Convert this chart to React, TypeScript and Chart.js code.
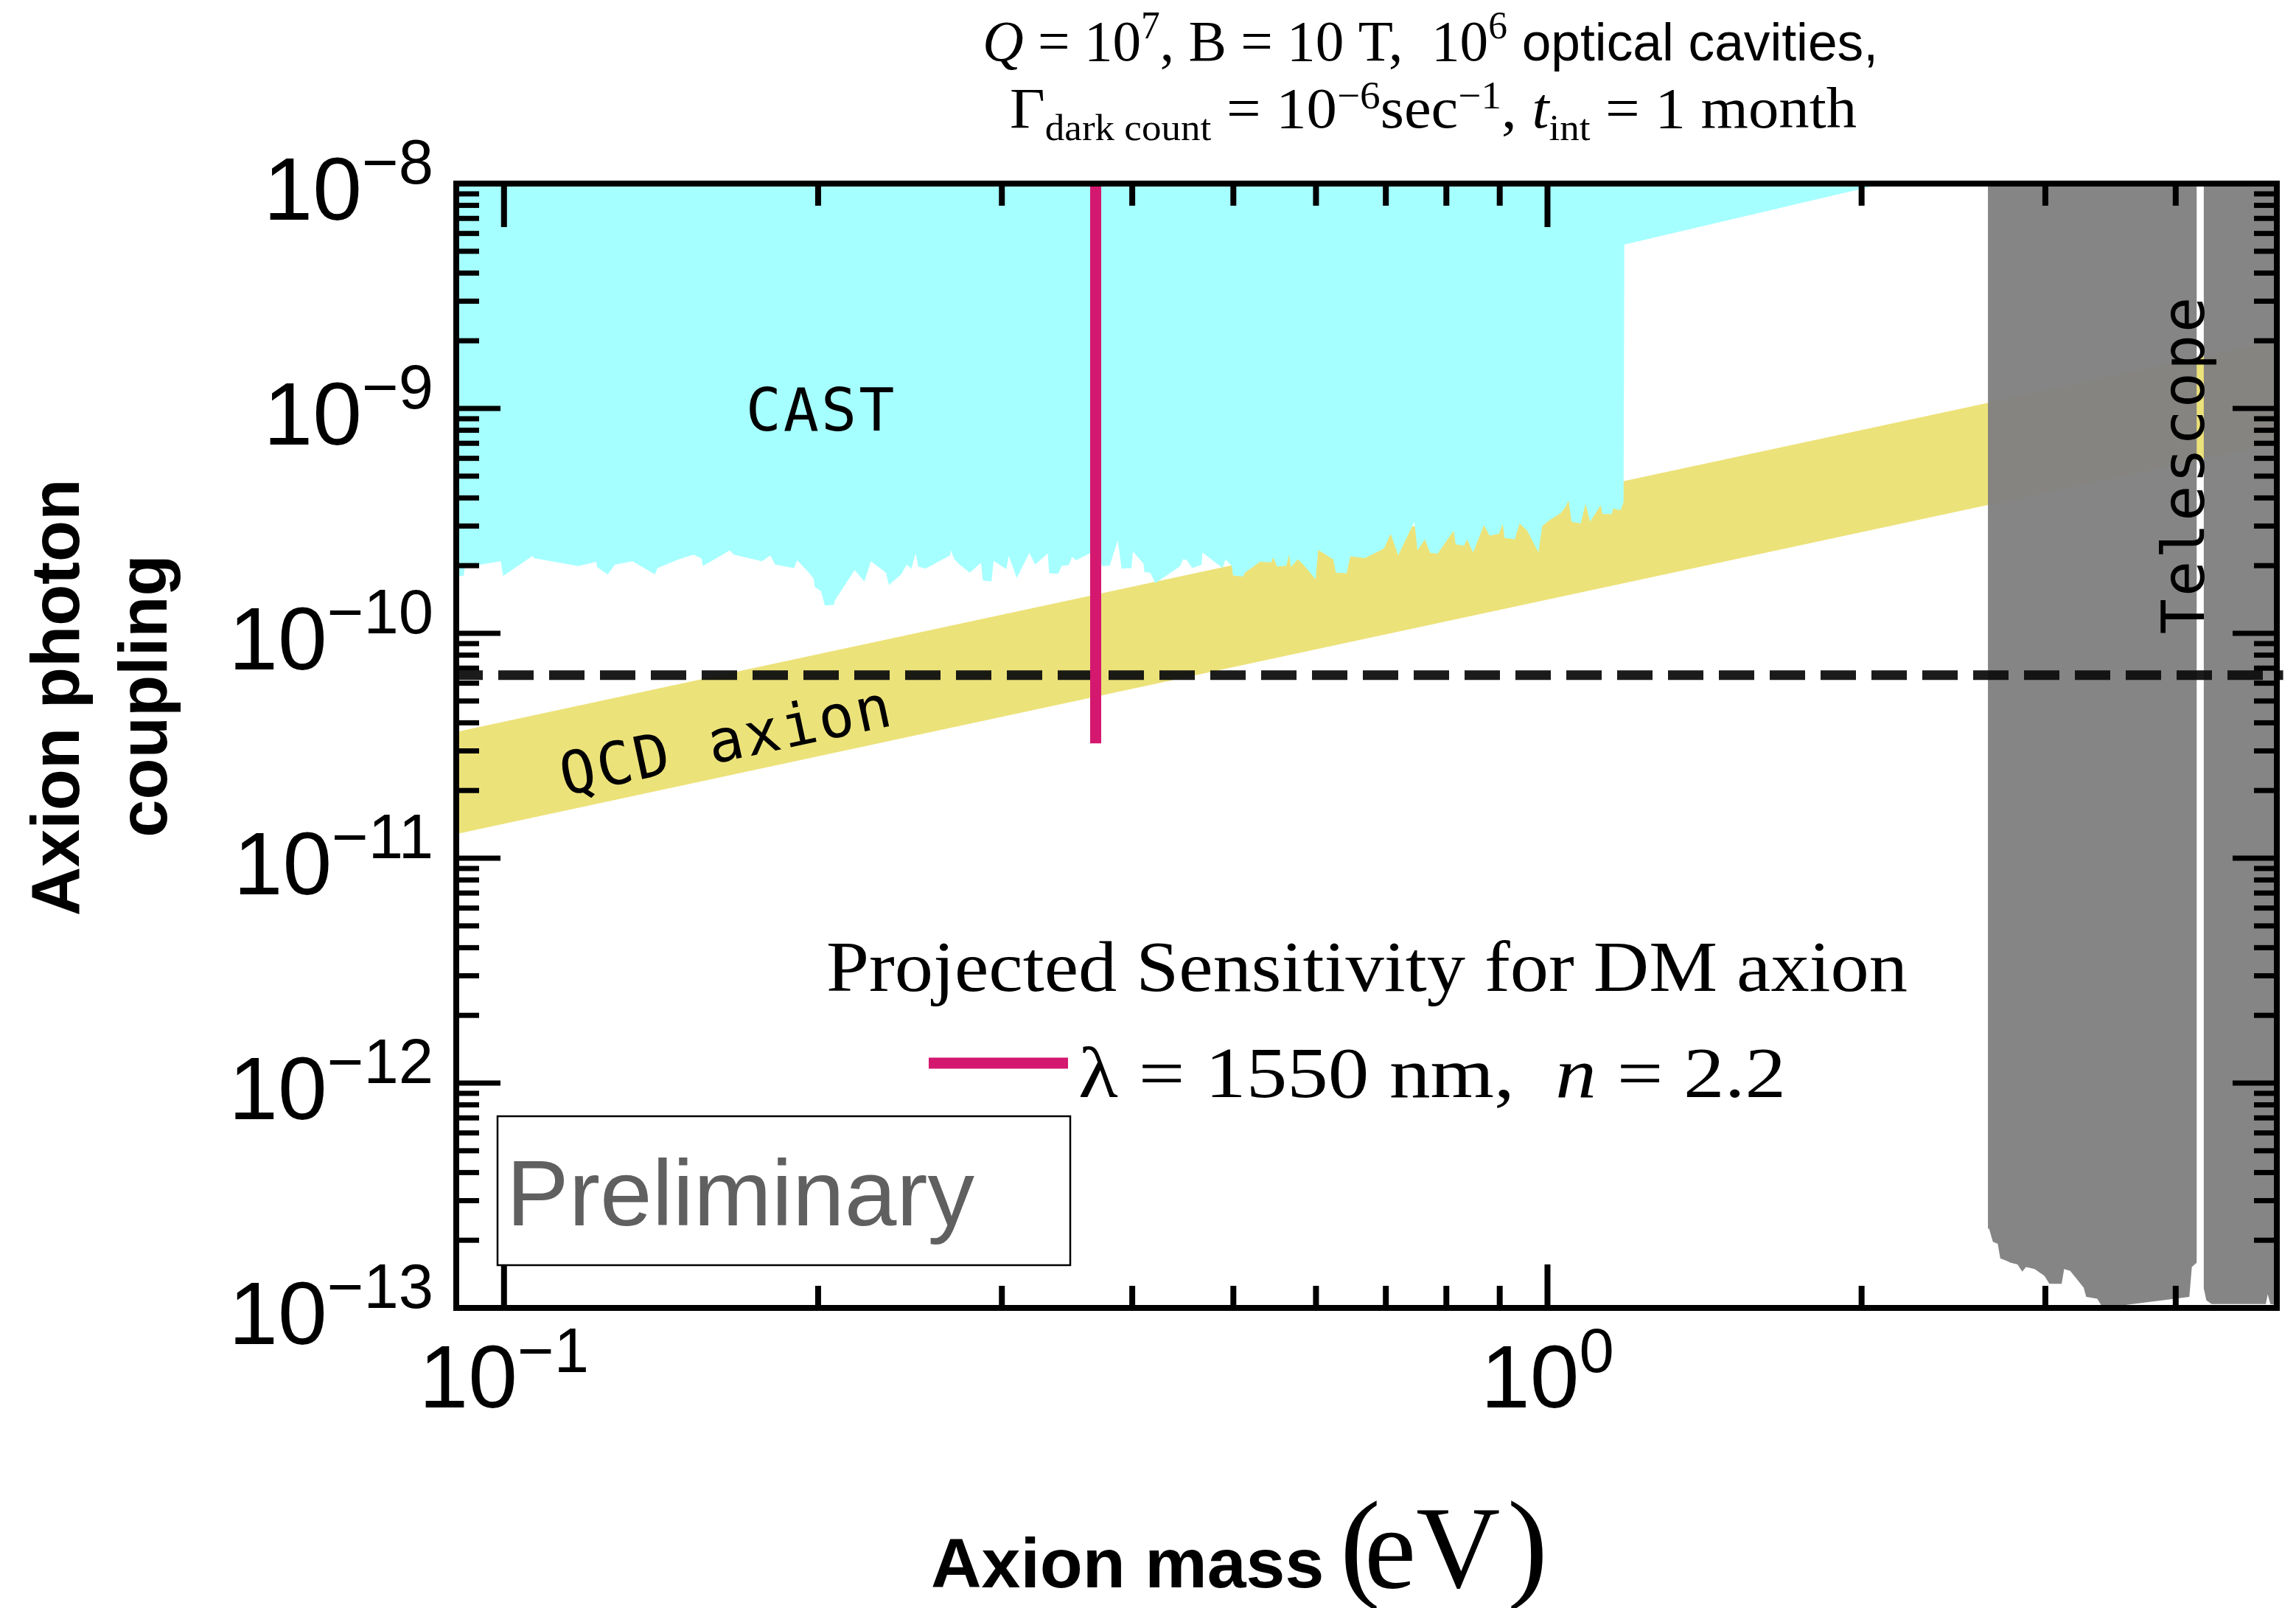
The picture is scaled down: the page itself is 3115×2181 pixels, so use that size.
import React, { useEffect, useRef } from 'react';
import { Chart, registerables } from 'chart.js';

Chart.register(...registerables);

const W = 3115;
const H = 2181;

// ---------- axes ----------
const X_MIN = 0.09;
const X_MAX = 5;
const Y_MIN = 1e-13;
const Y_MAX = 1e-8;
const X_MAJOR_TICKS = [0.1, 1];
const X_MAJOR_EXPONENTS = ['\u22121', '0'];
const X_MINOR_TICKS = [0.2, 0.3, 0.4, 0.5, 0.6, 0.7, 0.8, 0.9, 2, 3, 4];
const Y_MAJOR_TICKS = [1e-13, 1e-12, 1e-11, 1e-10, 1e-9, 1e-8];
const Y_MAJOR_EXPONENTS = ['\u221213', '\u221212', '\u221211', '\u221210', '\u22129', '\u22128'];
const Y_MINOR_DECADES = [1e-13, 1e-12, 1e-11, 1e-10, 1e-9];
const Y_MINOR_MANTISSAS = [2, 3, 4, 5, 6, 7, 8, 9];

// ---------- CAST exclusion (lower boundary, filled up to the top) ----------
const CAST_MASS = [
  0.09, 0.0915, 0.0917, 0.0993, 0.0998, 0.1065, 0.1068, 0.1178, 0.1226, 0.1228,
  0.1257, 0.1278, 0.1328, 0.1395, 0.1403, 0.1473, 0.152, 0.1546, 0.1551, 0.1646,
  0.166, 0.1767, 0.18, 0.1819, 0.1896, 0.191, 0.1956, 0.198, 0.1985, 0.2013,
  0.203, 0.2071, 0.2075, 0.2168, 0.2215, 0.2247, 0.2323, 0.2338, 0.2402, 0.2432,
  0.2457, 0.248, 0.2495, 0.2535, 0.2676, 0.2681, 0.2701, 0.2732, 0.2795, 0.2865,
  0.2877, 0.2932, 0.2946, 0.303, 0.3046, 0.31, 0.3188, 0.3228, 0.332, 0.333,
  0.3397, 0.3424, 0.3477, 0.3503, 0.3533, 0.3643, 0.3748, 0.3806, 0.3875, 0.3907,
  0.3993, 0.4006, 0.41, 0.411, 0.4162, 0.421, 0.4447, 0.4473, 0.451, 0.4566,
  0.4662, 0.467, 0.4882, 0.4914, 0.4983, 0.4996, 0.5109, 0.5129, 0.5303, 0.5436,
  0.546, 0.5506, 0.5621, 0.5654, 0.5677, 0.5763, 0.5834, 0.5995, 0.603, 0.6233,
  0.6269, 0.642, 0.6472, 0.668, 0.6917, 0.6975, 0.7075, 0.7193, 0.7455, 0.7505,
  0.7631, 0.7718, 0.7846, 0.8131, 0.8165, 0.8318, 0.8374, 0.8486, 0.8692, 0.88,
  0.8985, 0.906, 0.9097, 0.9304, 0.9404, 0.9562, 0.9804, 0.9885, 1.005, 1.0287,
  1.0407, 1.0477, 1.0546, 1.076, 1.0877, 1.0985, 1.1245, 1.1292, 1.1528, 1.1556,
  1.175, 1.1829, 1.1849, 2.1,
];
const CAST_COUPLING = [
  1.8e-10, 1.8e-10, 1.97e-10, 2.09e-10, 1.8e-10, 2.21e-10, 2.16e-10, 1.99e-10, 2.08e-10, 1.97e-10,
  1.83e-10, 2.02e-10, 2.09e-10, 1.83e-10, 1.95e-10, 2.14e-10, 2.24e-10, 2.15e-10, 1.99e-10, 2.34e-10,
  2.24e-10, 2.09e-10, 2.22e-10, 2.02e-10, 1.95e-10, 2.11e-10, 1.88e-10, 1.75e-10, 1.61e-10, 1.54e-10,
  1.33e-10, 1.34e-10, 1.4e-10, 1.91e-10, 1.7e-10, 2.09e-10, 1.86e-10, 1.64e-10, 1.83e-10, 2.02e-10,
  1.94e-10, 2.27e-10, 1.98e-10, 1.94e-10, 2.22e-10, 2.34e-10, 2.14e-10, 2.02e-10, 1.86e-10, 2.06e-10,
  1.72e-10, 1.7e-10, 2.1e-10, 1.93e-10, 2.21e-10, 1.76e-10, 2.28e-10, 2.02e-10, 2.27e-10, 1.85e-10,
  1.84e-10, 2.0e-10, 2.01e-10, 2.19e-10, 2.11e-10, 2.27e-10, 1.99e-10, 2.0e-10, 2.6e-10, 1.94e-10,
  1.95e-10, 2.31e-10, 2.04e-10, 1.87e-10, 1.86e-10, 1.67e-10, 1.99e-10, 2.13e-10, 2.12e-10, 1.95e-10,
  2.02e-10, 2.29e-10, 1.95e-10, 2.13e-10, 1.99e-10, 1.81e-10, 1.79e-10, 1.86e-10, 2.08e-10, 2.07e-10,
  2.18e-10, 1.98e-10, 2.0e-10, 2.24e-10, 1.97e-10, 2.13e-10, 2.02e-10, 1.74e-10, 2.35e-10, 2.13e-10,
  1.86e-10, 1.85e-10, 2.2e-10, 2.16e-10, 2.34e-10, 2.39e-10, 2.77e-10, 2.22e-10, 3.13e-10, 2.34e-10,
  2.62e-10, 2.28e-10, 2.26e-10, 2.86e-10, 2.49e-10, 2.45e-10, 2.62e-10, 2.29e-10, 3.03e-10, 2.72e-10,
  2.77e-10, 3.06e-10, 2.66e-10, 2.62e-10, 3.08e-10, 2.86e-10, 2.29e-10, 3.0e-10, 3.19e-10, 3.41e-10,
  3.65e-10, 3.9e-10, 3.13e-10, 3.08e-10, 3.77e-10, 3.13e-10, 3.71e-10, 3.39e-10, 3.39e-10, 3.59e-10,
  3.53e-10, 3.84e-10, 5.35e-9, 1.0e-8,
];

// ---------- QCD axion band ----------
const QCD_MASS = [0.09, 5];
const QCD_UPPER = [3.64e-11, 2.0e-9];
const QCD_LOWER = [1.28e-11, 7.03e-10];

// ---------- Telescope exclusion (lower boundaries, filled up to the top) ----------
const TEL1_MASS = [
  2.643, 2.65, 2.672, 2.701, 2.716, 2.753, 2.776, 2.821, 2.851, 2.875, 2.93, 2.994, 3.027,
  3.11, 3.127, 3.169, 3.23, 3.265, 3.283, 3.364, 3.392, 3.58, 4.122, 4.145, 4.191,
];
const TEL1_COUPLING = [
  2.25e-13, 2.25e-13, 1.97e-13, 1.93e-13, 1.66e-13, 1.62e-13, 1.59e-13, 1.56e-13, 1.45e-13, 1.52e-13,
  1.49e-13, 1.39e-13, 1.28e-13, 1.28e-13, 1.49e-13, 1.46e-13, 1.31e-13, 1.23e-13, 1.12e-13, 1.1e-13,
  1.03e-13, 1.03e-13, 1.12e-13, 1.52e-13, 1.59e-13,
];
const TEL2_MASS = [4.254, 4.28, 4.33, 4.88, 4.9, 4.93, 5.0];
const TEL2_COUPLING = [1.23e-13, 1.08e-13, 1.04e-13, 1.04e-13, 1.15e-13, 1.04e-13, 1.03e-13];

// ---------- projected sensitivity (lambda = 1550 nm, n = 2.2) ----------
const SENS_MASS = [0.369, 0.369];
const SENS_COUPLING = [1e-8, 3.24e-11];

// ---------- dashed reference line ----------
const DASH_MASS = [0.09, 5.07];
const DASH_COUPLING = [6.52e-11, 6.52e-11];

// ---------- styles ----------
const CYAN = 'rgb(166,255,255)';
const YELLOW = 'rgb(236,226,122)';
const GREY = 'rgba(128,128,128,0.96)';
const PINK = 'rgb(212,24,111)';
const SANS = '"Liberation Sans", Arial, Helvetica, sans-serif';
const SANS_NARROW = '"Liberation Sans Narrow", "Liberation Sans", Arial, sans-serif';
const SERIF = '"Liberation Serif", "Times New Roman", serif';
const MONO = '"DejaVu Sans Mono", monospace';

const pts = (xs: number[], ys: number[]) => xs.map((x, i) => ({ x, y: ys[i] }));

type Seg = { t: string; f: string; dy?: number };

function segsWidth(ctx: CanvasRenderingContext2D, segs: Seg[]) {
  let w = 0;
  for (const s of segs) {
    ctx.font = s.f;
    w += ctx.measureText(s.t).width;
  }
  return w;
}

function drawSegs(
  ctx: CanvasRenderingContext2D,
  segs: Seg[],
  x: number,
  y: number,
  align: 'left' | 'center' | 'right',
  width?: number,
  color = '#000'
) {
  const natural = segsWidth(ctx, segs);
  const sx = width ? width / natural : 1;
  const total = natural * sx;
  let x0 = x;
  if (align === 'center') x0 = x - total / 2;
  else if (align === 'right') x0 = x - total;
  ctx.save();
  ctx.translate(x0, y);
  ctx.scale(sx, 1);
  ctx.fillStyle = color;
  ctx.textAlign = 'left';
  ctx.textBaseline = 'alphabetic';
  let cx = 0;
  for (const s of segs) {
    ctx.font = s.f;
    ctx.fillText(s.t, cx, s.dy || 0);
    cx += ctx.measureText(s.t).width;
  }
  ctx.restore();
}

const overlayPlugin = {
  id: 'overlay',
  afterDatasetsDraw(chart: any) {
    const ctx: CanvasRenderingContext2D = chart.ctx;
    const xs = chart.scales.x;
    const ys = chart.scales.y;
    const { left, right, top, bottom } = chart.chartArea;

    ctx.save();
    ctx.strokeStyle = '#000';
    ctx.lineCap = 'butt';
    const seg = (x1: number, y1: number, x2: number, y2: number) => {
      ctx.beginPath();
      ctx.moveTo(x1, y1);
      ctx.lineTo(x2, y2);
      ctx.stroke();
    };

    // y ticks (inward, both sides)
    ctx.lineWidth = 7;
    for (const v of Y_MAJOR_TICKS) {
      const py = ys.getPixelForValue(v);
      seg(left, py, left + 60, py);
      seg(right, py, right - 60, py);
    }
    for (const d of Y_MINOR_DECADES) {
      for (const m of Y_MINOR_MANTISSAS) {
        const py = ys.getPixelForValue(d * m);
        seg(left, py, left + 31, py);
        seg(right, py, right - 31, py);
      }
    }
    // x ticks (inward, both sides)
    ctx.lineWidth = 8;
    for (const v of X_MAJOR_TICKS) {
      const px = xs.getPixelForValue(v);
      seg(px, bottom, px, bottom - 59);
      seg(px, top, px, top + 59);
    }
    for (const v of X_MINOR_TICKS) {
      const px = xs.getPixelForValue(v);
      seg(px, bottom, px, bottom - 30);
      seg(px, top, px, top + 30);
    }
    // frame
    ctx.lineWidth = 8;
    ctx.strokeRect(left, top, right - left, bottom - top);

    // y tick labels
    const labelRight = left - 31;
    Y_MAJOR_TICKS.forEach((v, i) => {
      const py = ys.getPixelForValue(v);
      drawSegs(
        ctx,
        [
          { t: '10', f: `120px ${SANS}` },
          { t: Y_MAJOR_EXPONENTS[i], f: `85px ${SANS}`, dy: -49 },
        ],
        labelRight,
        py + 49,
        'right'
      );
    });
    // x tick labels
    X_MAJOR_TICKS.forEach((v, i) => {
      const px = xs.getPixelForValue(v);
      drawSegs(
        ctx,
        [
          { t: '10', f: `120px ${SANS}` },
          { t: X_MAJOR_EXPONENTS[i], f: `85px ${SANS}`, dy: -48 },
        ],
        px,
        bottom + 135,
        'center'
      );
    });

    // axis titles
    ctx.fillStyle = '#000';
    ctx.save();
    ctx.translate(107, 946);
    ctx.rotate(-Math.PI / 2);
    ctx.font = `bold 92px ${SANS}`;
    ctx.textAlign = 'center';
    ctx.textBaseline = 'alphabetic';
    ctx.fillText('Axion photon', 0, 0);
    ctx.restore();
    ctx.save();
    ctx.translate(226, 944);
    ctx.rotate(-Math.PI / 2);
    ctx.font = `bold 92px ${SANS}`;
    ctx.textAlign = 'center';
    ctx.fillText('coupling', 0, 0);
    ctx.restore();

    ctx.textAlign = 'left';
    ctx.textBaseline = 'alphabetic';
    ctx.font = `bold 95px ${SANS}`;
    ctx.fillText('Axion mass', 1263, 2153);
    ctx.font = `165px ${SERIF}`;
    ctx.fillText('(', 1818, 2150);
    ctx.font = `158px ${SERIF}`;
    ctx.fillText('eV', 1851, 2153);
    ctx.font = `165px ${SERIF}`;
    ctx.fillText(')', 2045, 2150);

    // title (two lines)
    const tMain = `78px ${SERIF}`;
    const tIt = `italic 78px ${SERIF}`;
    const tSup = `52px ${SERIF}`;
    const tSub = `50px ${SERIF}`;
    drawSegs(
      ctx,
      [
        { t: 'Q', f: tIt },
        { t: ' = 10', f: tMain },
        { t: '7', f: tSup, dy: -30 },
        { t: ', B = 10 T,  10', f: tMain },
        { t: '6', f: tSup, dy: -30 },
        { t: ' optical cavities,', f: `72px ${SANS_NARROW}` },
      ],
      1333,
      82,
      'left',
      1215
    );
    drawSegs(
      ctx,
      [
        { t: '\u0393', f: tMain },
        { t: 'dark count', f: tSub, dy: 17 },
        { t: ' = 10', f: tMain },
        { t: '\u22126', f: tSup, dy: -26 },
        { t: 'sec', f: tMain },
        { t: '\u22121', f: tSup, dy: -26 },
        { t: ', ', f: tMain },
        { t: 't', f: tIt },
        { t: 'int', f: tSub, dy: 17 },
        { t: ' = 1 month', f: tMain },
      ],
      1370,
      173,
      'left',
      1149
    );

    // in-plot labels
    ctx.fillStyle = '#000';
    (ctx as any).letterSpacing = '3px';
    ctx.font = `80px ${MONO}`;
    ctx.textAlign = 'center';
    ctx.fillText('CAST', 1114, 584);

    const qa = Math.atan2(
      ys.getPixelForValue(QCD_UPPER[1]) - ys.getPixelForValue(QCD_UPPER[0]),
      xs.getPixelForValue(QCD_MASS[1]) - xs.getPixelForValue(QCD_MASS[0])
    );
    ctx.save();
    ctx.translate(991, 1031);
    ctx.rotate(qa);
    ctx.fillText('QCD axion', 0, 0);
    ctx.restore();

    ctx.save();
    ctx.translate(2990, 630);
    ctx.rotate(-Math.PI / 2);
    ctx.fillText('Telescope', 0, 0);
    ctx.restore();
    (ctx as any).letterSpacing = '0px';

    // legend
    drawSegs(
      ctx,
      [{ t: 'Projected Sensitivity for DM axion', f: `98px ${SERIF}` }],
      1121,
      1344,
      'left',
      1467
    );
    ctx.strokeStyle = PINK;
    ctx.lineWidth = 15;
    seg(1260, 1442, 1449, 1442);
    drawSegs(
      ctx,
      [
        { t: '\u03bb', f: `98px ${SERIF}` },
        { t: ' = 1550 nm,  ', f: `98px ${SERIF}` },
        { t: 'n', f: `italic 98px ${SERIF}` },
        { t: ' = 2.2', f: `98px ${SERIF}` },
      ],
      1463,
      1488,
      'left',
      960
    );

    // Preliminary box
    ctx.strokeStyle = '#000';
    ctx.lineWidth = 2.5;
    ctx.strokeRect(675, 1514, 777, 202);
    ctx.fillStyle = '#606060';
    ctx.font = `127px ${SANS}`;
    ctx.textAlign = 'left';
    ctx.fillText('Preliminary', 687, 1662);

    ctx.restore();
  },
};

export default function App() {
  const ref = useRef<HTMLCanvasElement | null>(null);

  useEffect(() => {
    document.body.style.margin = '0';
    document.body.style.overflow = 'hidden';
    const canvas = ref.current;
    if (!canvas) return;

    const chart = new Chart(canvas, {
      type: 'line',
      data: {
        datasets: [
          {
            // 0: projected sensitivity
            data: pts(SENS_MASS, SENS_COUPLING),
            borderColor: PINK,
            borderWidth: 15,
            borderCapStyle: 'butt',
            pointRadius: 0,
            fill: false,
            order: 1,
          },
          {
            // 1: dashed line
            data: pts(DASH_MASS, DASH_COUPLING),
            borderColor: 'rgba(15,15,15,0.95)',
            borderWidth: 13,
            borderDash: [48, 21],
            borderDashOffset: 12,
            borderCapStyle: 'butt',
            pointRadius: 0,
            fill: false,
            clip: false,
            order: 2,
          },
          {
            // 2: telescope band 1
            data: pts(TEL1_MASS, TEL1_COUPLING),
            borderColor: 'rgba(0,0,0,0)',
            borderWidth: 1,
            backgroundColor: GREY,
            pointRadius: 0,
            fill: 'end',
            order: 3,
          },
          {
            // 3: telescope band 2
            data: pts(TEL2_MASS, TEL2_COUPLING),
            borderColor: 'rgba(0,0,0,0)',
            borderWidth: 1,
            backgroundColor: GREY,
            pointRadius: 0,
            fill: 'end',
            order: 4,
          },
          {
            // 4: CAST
            data: pts(CAST_MASS, CAST_COUPLING),
            borderColor: 'rgba(0,0,0,0)',
            borderWidth: 1,
            backgroundColor: CYAN,
            pointRadius: 0,
            fill: 'end',
            order: 5,
          },
          {
            // 5: QCD band upper edge (filled down to lower edge)
            data: pts(QCD_MASS, QCD_UPPER),
            borderColor: 'rgba(0,0,0,0)',
            borderWidth: 1,
            backgroundColor: YELLOW,
            pointRadius: 0,
            fill: 6,
            order: 6,
          },
          {
            // 6: QCD band lower edge
            data: pts(QCD_MASS, QCD_LOWER),
            borderColor: 'rgba(0,0,0,0)',
            borderWidth: 1,
            pointRadius: 0,
            fill: false,
            order: 7,
          },
        ],
      } as any,
      options: {
        animation: false,
        responsive: false,
        maintainAspectRatio: false,
        devicePixelRatio: 1,
        events: [],
        layout: { padding: { left: 619, right: 26, top: 249, bottom: 407 } },
        elements: { line: { tension: 0 } },
        scales: {
          x: { type: 'logarithmic', min: X_MIN, max: X_MAX, bounds: 'data', display: false },
          y: { type: 'logarithmic', min: Y_MIN, max: Y_MAX, bounds: 'data', display: false },
        },
        plugins: {
          legend: { display: false },
          tooltip: { enabled: false },
          title: { display: false },
          filler: { propagate: false },
        },
      } as any,
      plugins: [overlayPlugin],
    });

    return () => chart.destroy();
  }, []);

  return (
    <div style={{ width: W, height: H }}>
      <canvas ref={ref} width={W} height={H} style={{ display: 'block', width: W, height: H }} />
    </div>
  );
}
